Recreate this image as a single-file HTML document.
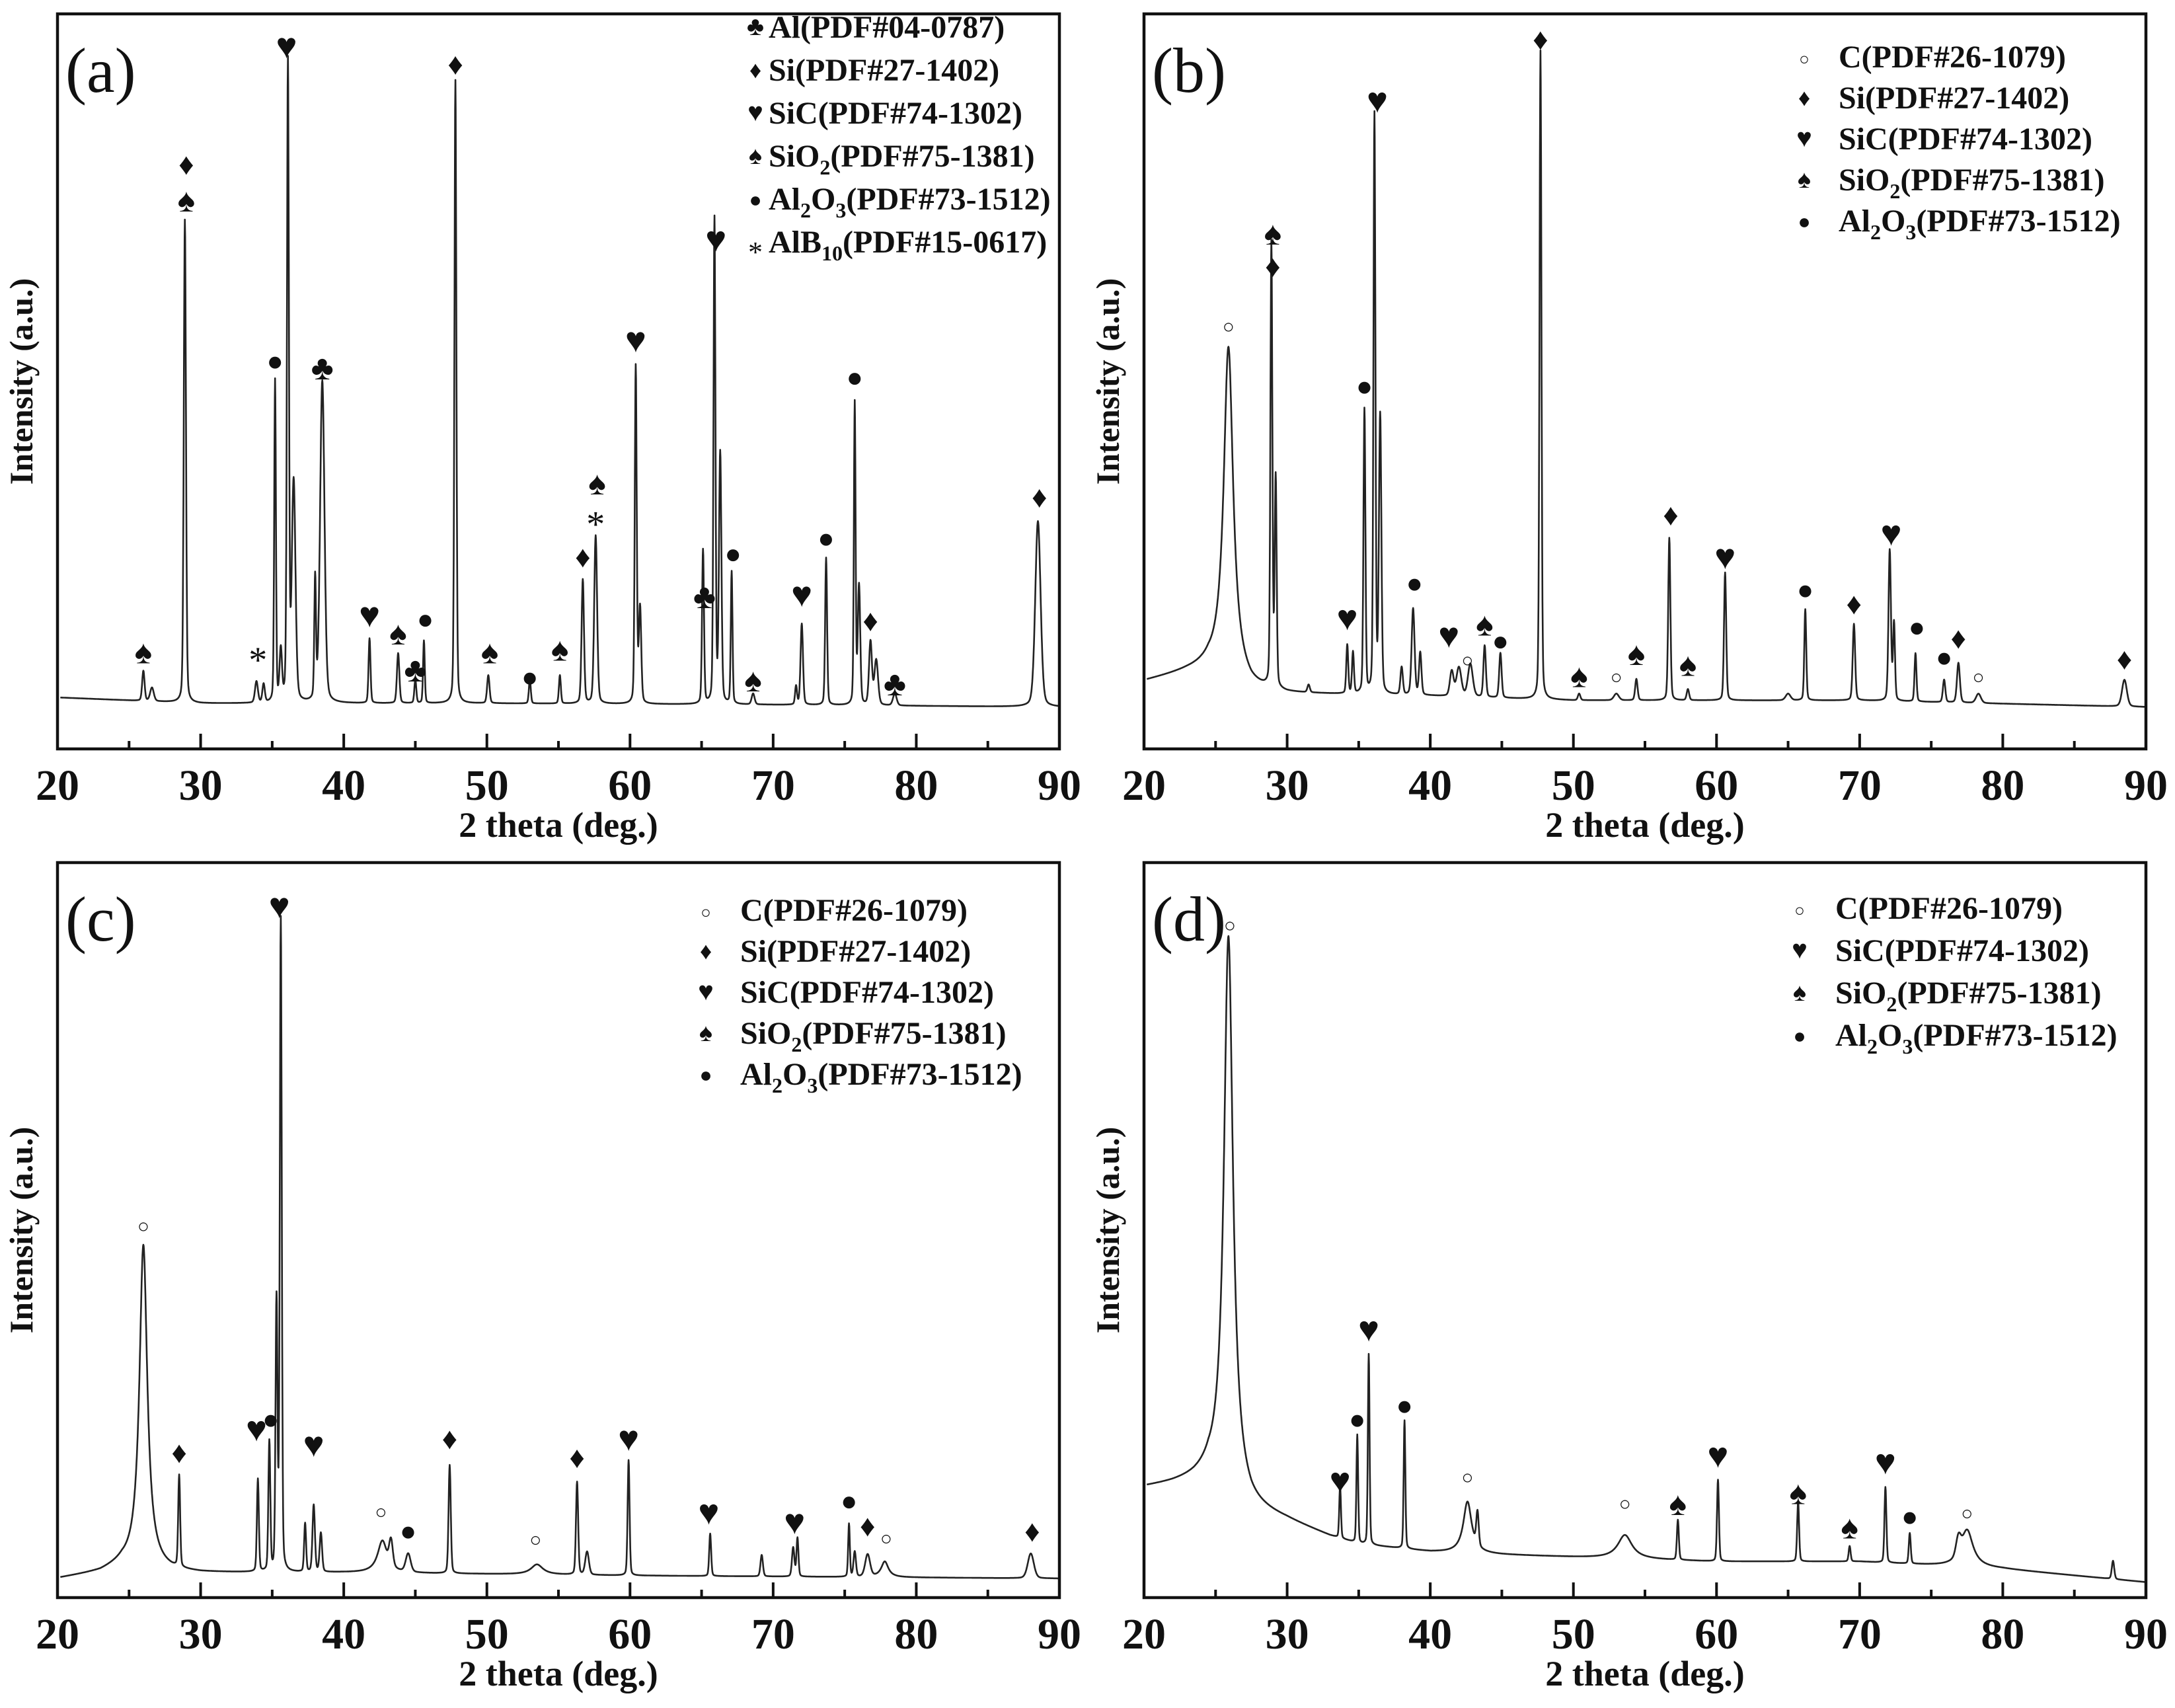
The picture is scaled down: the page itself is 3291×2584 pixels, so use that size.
<!DOCTYPE html>
<html><head><meta charset="utf-8"><style>
html,body{margin:0;padding:0;background:#fff}
svg{display:block}
text{font-family:"Liberation Serif",serif}
</style></head><body>
<svg id="fig" width="3291" height="2584" viewBox="0 0 3291 2584" xmlns="http://www.w3.org/2000/svg"></svg>
<script>
const xTicks=[20,30,40,50,60,70,80,90];
const minorTicks=[25,35,45,55,65,75,85];

const aBaseX=[20,30,50,70,90];
const aBaseY=[7.0,6.2,6.2,6.0,5.7];
const aPeakX=[26.0,26.6,28.9,33.9,34.4,35.2,35.6,36.1,36.5,38.0,38.5,41.8,43.8,45.0,45.6,47.8,50.1,53.0,55.1,56.7,57.6,60.4,60.7,65.1,65.9,66.3,67.1,68.6,71.6,72.0,73.7,75.7,76.0,76.8,77.2,78.5,88.5];
const aPeakY=[10.6,8.3,72,9.1,8.7,50,13,93,36,22.6,50,15,13,9.4,14.7,91,10,9.4,10,23,29,52,19,27,72,40,24,7.5,8.5,17,26,47,22,14.5,12,7.5,31];
const aPeakW=[0.1,0.15,0.09,0.12,0.1,0.07,0.1,0.08,0.15,0.07,0.18,0.08,0.1,0.08,0.07,0.08,0.1,0.08,0.08,0.1,0.12,0.08,0.1,0.08,0.08,0.1,0.07,0.12,0.08,0.1,0.08,0.07,0.1,0.12,0.15,0.15,0.22];
const aMarkS=["♠","♦","♠","*","●","♥","♣","♥","♠","♣","●","♦","♠","●","♠","♦","♠","*","♥","♣","♥","●","♠","♥","●","●","♦","♣","♦"];
const aMarkX=[26,29,29,34,35.2,36,38.5,41.8,43.8,45,45.7,47.8,50.2,53,55.1,56.7,57.7,57.6,60.4,65.2,66,67.2,68.6,72,73.7,75.7,76.8,78.5,88.6];
const aMarkY=[13.2,79.6,74.7,13.2,52.8,95.7,51.9,18.3,15.8,10.8,17.7,93.2,13.2,9.8,13.6,26.2,36.2,31.7,55.7,20.8,69.4,26.6,9.4,21.1,28.7,50.6,17.5,8.9,34.3];

const bBaseX=[20,23,24.5,27.5,30,40,50,70,90];
const bBaseY=[9.2,10.5,11,8,7.5,7.2,6.6,6.6,5.7];
const bPeakX=[25.9,28.9,29.2,31.5,34.2,34.6,35.4,36.1,36.5,38.0,38.8,39.3,41.5,42.0,42.8,43.8,44.9,47.7,50.4,53.0,54.4,56.7,58.0,60.6,62,65,66.2,69.6,72.1,72.4,73.9,75.9,76.9,78.3,88.5];
const bPeakY=[54.7,68,36,8.5,14,13,46,86,45,11,19,13,10.5,11,11.5,14,13,95,7.5,7.5,9.5,28.7,8.1,24,6.6,7.5,19,17,27,17,13,9.4,11.7,7.5,9.4];
const bPeakW=[0.4,0.08,0.08,0.1,0.08,0.08,0.08,0.08,0.1,0.1,0.12,0.1,0.15,0.2,0.2,0.1,0.1,0.08,0.1,0.2,0.1,0.09,0.1,0.09,0.2,0.2,0.08,0.1,0.1,0.08,0.08,0.1,0.12,0.2,0.2];
const bMarkS=["○","♠","♦","●","♥","♥","●","♥","○","♠","●","♦","♠","○","♠","♦","♠","♥","●","♦","♥","●","●","♦","○","♦"];
const bMarkX=[25.9,29,29,35.4,36.3,34.2,38.9,41.3,42.6,43.8,44.9,47.7,50.4,53,54.4,56.8,58,60.6,66.2,69.6,72.2,74,75.9,76.9,78.3,88.5];
const bMarkY=[57.5,70.2,65.7,49.4,88.3,17.9,22.6,15.5,12.1,17,14.7,96.6,10,9.8,13,31.9,11.5,26.2,21.7,19.8,29.4,16.6,12.5,15.1,9.8,12.3];

const cBaseX=[20,23,24.5,28,30,40,60,90];
const cBaseY=[2.6,3.5,4.5,3.6,3.4,3.4,3.0,2.6];
const cPeakX=[26.0,28.5,34.0,34.8,35.3,35.6,37.3,37.9,38.4,42.7,43.3,44.5,47.4,53.5,56.3,57.0,59.9,65.6,69.2,71.4,71.7,75.3,75.7,76.6,77.8,88.0];
const cPeakY=[48,16,16,21,40,92,10,12.5,8.7,7.7,6.8,5.8,18,4.5,15.7,6.2,18.7,8.7,5.8,6.8,8.1,10,6.2,5.8,4.9,6];
const cPeakW=[0.33,0.08,0.08,0.08,0.08,0.08,0.08,0.1,0.1,0.4,0.15,0.2,0.09,0.5,0.09,0.15,0.08,0.08,0.1,0.1,0.08,0.07,0.1,0.2,0.3,0.25];
const cMarkS=["○","♦","●","♥","♥","♥","○","●","♦","○","♦","♥","♥","♥","●","♦","○","♦"];
const cMarkX=[26,28.5,34.9,33.9,35.5,37.9,42.6,44.5,47.4,53.4,56.3,59.9,65.5,71.5,75.3,76.6,77.9,88.1];
const cMarkY=[50.6,19.8,24.3,23,94.2,20.9,11.7,9.1,21.7,7.9,19.1,21.7,11.7,10.4,13.2,9.8,8.1,9.1];

const dBaseX=[20,22,23.5,24.5,27.5,30,33,35,40,45,50,60,70,80,90];
const dBaseY=[15,15.5,16,16.5,12,10.5,8.3,7.2,6.2,5.8,5.5,4.9,4.9,3.9,2.1];
const dPeakX=[25.9,33.7,34.9,35.7,38.2,42.6,43.3,53.6,57.3,60.1,65.7,69.3,71.8,73.5,76.9,77.5,87.7];
const dPeakY=[90,15,22,33,24,13,10.5,8.5,10.5,16,13,7,15,8.7,6.7,9.2,5];
const dPeakW=[0.38,0.07,0.07,0.07,0.07,0.35,0.1,0.6,0.08,0.08,0.08,0.08,0.08,0.08,0.2,0.5,0.1];
const dMarkS=["○","♥","●","●","♥","○","○","♠","♥","♠","♠","♥","●","○"];
const dMarkX=[26,35.7,34.9,38.2,33.7,42.6,53.6,57.3,60.1,65.7,69.3,71.8,73.5,77.5];
const dMarkY=[91.5,36.6,24.3,26.2,16,16.4,12.8,12.8,19.4,14.3,9.6,18.5,11.1,11.5];

const aLegS=["♣","♦","♥","♠","●","*"];
const aLegT=[["Al(PDF#04-0787)"],["Si(PDF#27-1402)"],["SiC(PDF#74-1302)"],["SiO","2","(PDF#75-1381)"],["Al","2","O","3","(PDF#73-1512)"],["AlB","10","(PDF#15-0617)"]];
const bLegS=["○","♦","♥","♠","●"];
const bLegT=[["C(PDF#26-1079)"],["Si(PDF#27-1402)"],["SiC(PDF#74-1302)"],["SiO","2","(PDF#75-1381)"],["Al","2","O","3","(PDF#73-1512)"]];
const dLegS=["○","♥","♠","●"];
const dLegT=[["C(PDF#26-1079)"],["SiC(PDF#74-1302)"],["SiO","2","(PDF#75-1381)"],["Al","2","O","3","(PDF#73-1512)"]];

const NS="http://www.w3.org/2000/svg";
const svg=document.getElementById('fig');
function mk(tag,attrs,parent){const e=document.createElementNS(NS,tag);for(const k in attrs)e.setAttribute(k,attrs[k]);(parent||svg).appendChild(e);return e;}
function interp(xs,ys,x){if(x<=xs[0])return ys[0];for(let i=1;i<xs.length;i++){if(x<=xs[i]){const t=(x-xs[i-1])/(xs[i]-xs[i-1]);return ys[i-1]+t*(ys[i]-ys[i-1]);}}return ys[ys.length-1];}
function shape(u,w){const l=1/(1+u*u);if(w>=0.3)return l;const g=Math.exp(-0.693*u*u);return 0.75*g+0.25*l;}

function panel(p){
  const g=mk('g',{});
  
  
  const L=p.L,T=p.T,W=1516,H=1112;
  const sx=v=>L+(v-20)/70*W, sy=v=>T+H-v/100*H;
  const amps=p.px.map((x0,i)=>p.py[i]-interp(p.bx,p.by,x0));
  let d='';
  for(let x=20.2;x<=90;x+=0.02){
    let y=interp(p.bx,p.by,x);
    for(let i=0;i<p.px.length;i++){const u=(x-p.px[i])/p.pw[i];y+=amps[i]*shape(u,p.pw[i]);}
    d+=(d?'L':'M')+sx(x).toFixed(1)+' '+sy(y).toFixed(1);
  }
  const path=mk('path',{d:d,fill:'none',stroke:'#222','stroke-width':2.6,'stroke-linejoin':'round'},g);
  
  
  const fr=mk('rect',{x:L,y:T,width:W,height:H,fill:'none',stroke:'#111','stroke-width':4.5},g);
  
  
  xTicks.forEach(v=>{
    const t=mk('line',{x1:sx(v),x2:sx(v),y1:T+H,y2:T+H-23,stroke:'#111','stroke-width':4},g);
    
    
    const lb=mk('text',{x:sx(v),y:T+H+77,'font-size':66,'font-weight':'bold','text-anchor':'middle',fill:'#111'},g);
    lb.textContent=v;
    
    
  });
  minorTicks.forEach(v=>{
    const t=mk('line',{x1:sx(v),x2:sx(v),y1:T+H,y2:T+H-12,stroke:'#111','stroke-width':4},g);
    
    
  });
  const xl=mk('text',{x:L+W/2,y:T+H+133,'font-size':54,'font-weight':'bold','text-anchor':'middle',fill:'#111'},g);
  xl.textContent='2 theta (deg.)';
  
  
  const cx=L-38,cy=T+H/2;
  const yl=mk('text',{x:cx,y:cy,'font-size':50,'font-weight':'bold','text-anchor':'middle',transform:`rotate(-90 ${cx} ${cy})`,fill:'#111'},g);
  yl.textContent='Intensity (a.u.)';
  
  
  const pl=mk('text',{x:L+12,y:T+118,'font-size':96,fill:'#111'},g);
  pl.textContent=p.label;
  
  
  p.ms.forEach((s,i)=>{
    const fs={'♥':54,'♦':46,'♠':50,'♣':52,'●':42,'○':30,'*':56}[s];
    const m=mk('text',{x:sx(p.mx[i]),y:sy(p.my[i])+fs*0.35,'font-size':fs,'text-anchor':'middle',fill:'#111','font-family':'DejaVu Sans, sans-serif'},g);
    if(s==='*'){m.setAttribute('font-family','Liberation Serif, serif');m.setAttribute('y',sy(p.my[i])+fs*0.55);}
    m.textContent=s;
    
    
  });
  p.ls.forEach((s,i)=>{
    const y=p.ly+i*p.lstep;
    const fs={'♥':40,'♦':36,'♠':38,'♣':40,'●':32,'○':26,'*':44}[s];
    const sym=mk('text',{x:p.lsx,y:y-4+(s==='*'?18:0),'font-size':fs,'text-anchor':'middle',fill:'#111','font-family':'DejaVu Sans, sans-serif'},g);
    if(s==='*')sym.setAttribute('font-family','Liberation Serif, serif');
    sym.textContent=s;
    
    
    const t=mk('text',{x:p.ltx,y:y,'font-size':48,'font-weight':'bold',fill:'#111'},g);
    
    
    p.lt[i].forEach((part,j)=>{
      const ts=mk('tspan',{},t);
      if(j%2===1){ts.setAttribute('font-size',32);ts.setAttribute('dy',12);}
      else if(j>0){ts.setAttribute('dy',-12);}
      ts.textContent=part;
    });
  });
}
panel({name:'panel-a',label:'(a)',L:87,T:21,bx:aBaseX,by:aBaseY,px:aPeakX,py:aPeakY,pw:aPeakW,ms:aMarkS,mx:aMarkX,my:aMarkY,ls:aLegS,lt:aLegT,lsx:1143,ltx:1163,ly:57,lstep:65});
panel({name:'panel-b',label:'(b)',L:1731,T:21,bx:bBaseX,by:bBaseY,px:bPeakX,py:bPeakY,pw:bPeakW,ms:bMarkS,mx:bMarkX,my:bMarkY,ls:bLegS,lt:bLegT,lsx:2730,ltx:2782,ly:102,lstep:62});
panel({name:'panel-c',label:'(c)',L:87,T:1305,bx:cBaseX,by:cBaseY,px:cPeakX,py:cPeakY,pw:cPeakW,ms:cMarkS,mx:cMarkX,my:cMarkY,ls:bLegS,lt:bLegT,lsx:1068,ltx:1120,ly:1393,lstep:62});
panel({name:'panel-d',label:'(d)',L:1731,T:1305,bx:dBaseX,by:dBaseY,px:dPeakX,py:dPeakY,pw:dPeakW,ms:dMarkS,mx:dMarkX,my:dMarkY,ls:dLegS,lt:dLegT,lsx:2723,ltx:2777,ly:1390,lstep:64});
</script>
</body></html>
